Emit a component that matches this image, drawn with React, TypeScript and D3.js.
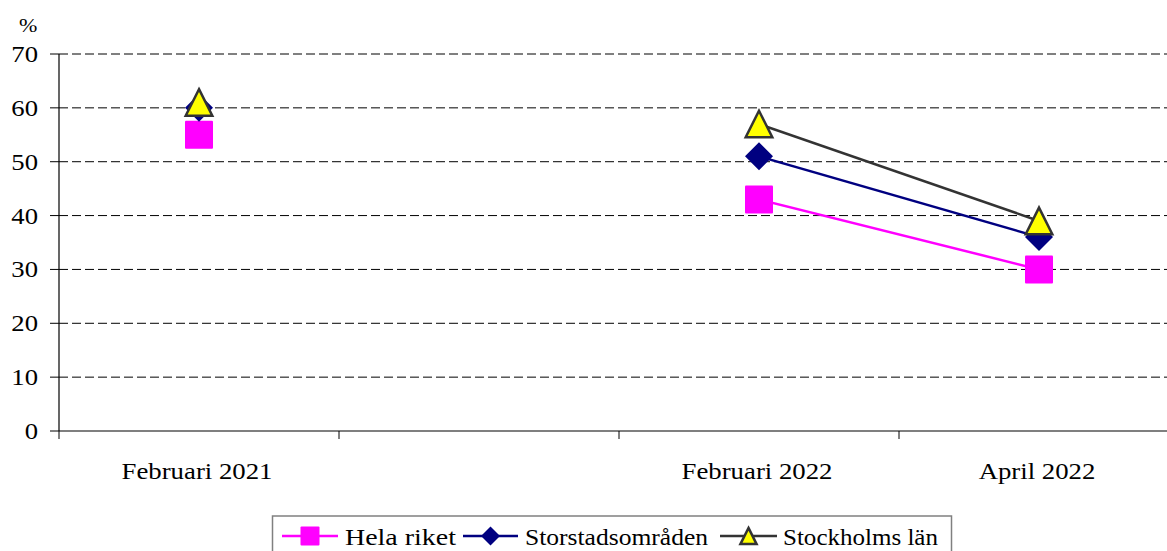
import React from "react";
import * as d3 from "d3";

const categories = ["Februari 2021", "", "Februari 2022", "April 2022"];
const helaRiket: (number | null)[] = [55, null, 43, 30];
const storstad: (number | null)[] = [60, null, 51, 36];
const stockholm: (number | null)[] = [61, null, 57, 39];
const yTicks = [0, 10, 20, 30, 40, 50, 60, 70];
const seriesNames = ["Hela riket", "Storstadsområden", "Stockholms län"];

const W = 1167;
const H = 551;
const left = 59;
const right = 1179;
const top = 54;
const bottom = 431;
const FONT = "'Liberation Serif', 'Times New Roman', serif";

const x = d3.scaleBand<number>().domain(d3.range(categories.length)).range([left, right]);
const y = d3.scaleLinear().domain([0, 70]).range([bottom, top]);

const series = [
  { name: seriesNames[0], values: helaRiket, color: "#FF00FF", marker: "square" },
  { name: seriesNames[1], values: storstad, color: "#000080", marker: "diamond" },
  { name: seriesNames[2], values: stockholm, color: "#333333", marker: "triangle" },
];

function Marker({ type, cx, cy, s }: { type: string; cx: number; cy: number; s: number }) {
  if (type === "square") {
    return <rect x={cx - s / 2} y={cy - s / 2} width={s} height={s} fill="#FF00FF" rx={1} />;
  }
  if (type === "diamond") {
    const h = s / 2;
    return <path d={`M${cx},${cy - h}L${cx + h},${cy}L${cx},${cy + h}L${cx - h},${cy}Z`} fill="#000080" />;
  }
  const h = s / 2;
  return (
    <path
      d={`M${cx},${cy - h * 0.95}L${cx + h * 0.95},${cy + h * 0.95}L${cx - h * 0.95},${cy + h * 0.95}Z`}
      fill="#FFFF00"
      stroke="#333333"
      strokeWidth={2.5}
      strokeLinejoin="miter"
    />
  );
}

function SText({ x: tx, y: ty, anchor, size, children, sx }: any) {
  return (
    <g transform={`translate(${tx},${ty}) scale(${sx || 1.16},1)`}>
      <text x={0} y={0} textAnchor={anchor || "start"} fontSize={size} fontFamily={FONT} fill="#000">
        {children}
      </text>
    </g>
  );
}

export default function App() {
  const cx = (i: number) => (x(i) as number) + x.bandwidth() / 2;
  const lineGen = d3
    .line<number | null>()
    .defined((d) => d !== null)
    .x((_, i) => cx(i))
    .y((d) => y(d as number));

  const legendItems = [
    { lx1: 282, lx2: 338, tx: 345, tw: 111 },
    { lx1: 463, lx2: 518, tx: 525, tw: 183 },
    { lx1: 720, lx2: 777, tx: 783, tw: 155 },
  ];

  return (
    <svg
      width={W}
      height={H}
      style={{ position: "absolute", left: 0, top: 0, background: "#fff" }}
    >
      <rect x={0} y={0} width={W} height={H} fill="#fff" />
      {yTicks.filter((t) => t > 0).map((t) => (
        <line key={"g" + t} x1={left} x2={W} y1={y(t)} y2={y(t)} stroke="#000" strokeWidth={1} strokeDasharray="9,4" />
      ))}
      <line x1={left} x2={left} y1={top} y2={bottom} stroke="#000" strokeWidth={1.2} />
      {yTicks.map((t) => (
        <g key={"yt" + t}>
          <line x1={left - 9} x2={left} y1={y(t)} y2={y(t)} stroke="#000" strokeWidth={1} />
          <SText x={38} y={y(t) + 8} anchor="end" size={23}>
            {t}
          </SText>
        </g>
      ))}
      <SText x={19} y={32} size={19}>%</SText>
      <line x1={left} x2={W} y1={bottom} y2={bottom} stroke="#000" strokeWidth={1.2} />
      {d3.range(categories.length + 1).map((i) => {
        const px = i < categories.length ? (x(i) as number) : right;
        return <line key={"xt" + i} x1={px} x2={px} y1={bottom} y2={bottom + 8} stroke="#000" strokeWidth={1} />;
      })}
      {categories.map((c, i) =>
        c ? (
          <SText key={"xl" + i} x={cx(i) - 2} y={478.5} anchor="middle" size={22.5} sx={1.19}>
            {c}
          </SText>
        ) : null
      )}
      {series.map((s) => (
        <path key={"l" + s.name} d={lineGen(s.values) || ""} fill="none" stroke={s.color} strokeWidth={2.5} />
      ))}
      {series.map((s) =>
        s.values.map((v, i) =>
          v === null ? null : <Marker key={s.name + i} type={s.marker} cx={cx(i)} cy={y(v)} s={28} />
        )
      )}
      <rect x={272.5} y={516} width={679} height={40} fill="#fff" stroke="#808080" strokeWidth={1.5} />
      {series.map((s, k) => {
        const it = legendItems[k];
        const ly = 536;
        return (
          <g key={"lg" + k}>
            <line x1={it.lx1} x2={it.lx2} y1={ly} y2={ly} stroke={s.color} strokeWidth={2.5} />
            <Marker type={s.marker} cx={(it.lx1 + it.lx2) / 2} cy={ly} s={s.marker === "triangle" ? 17 : 19} />
            <text
              x={it.tx}
              y={545}
              fontSize={23.5}
              fontFamily={FONT}
              textLength={it.tw}
              lengthAdjust="spacingAndGlyphs"
              fill="#000"
            >
              {s.name}
            </text>
          </g>
        );
      })}
    </svg>
  );
}
